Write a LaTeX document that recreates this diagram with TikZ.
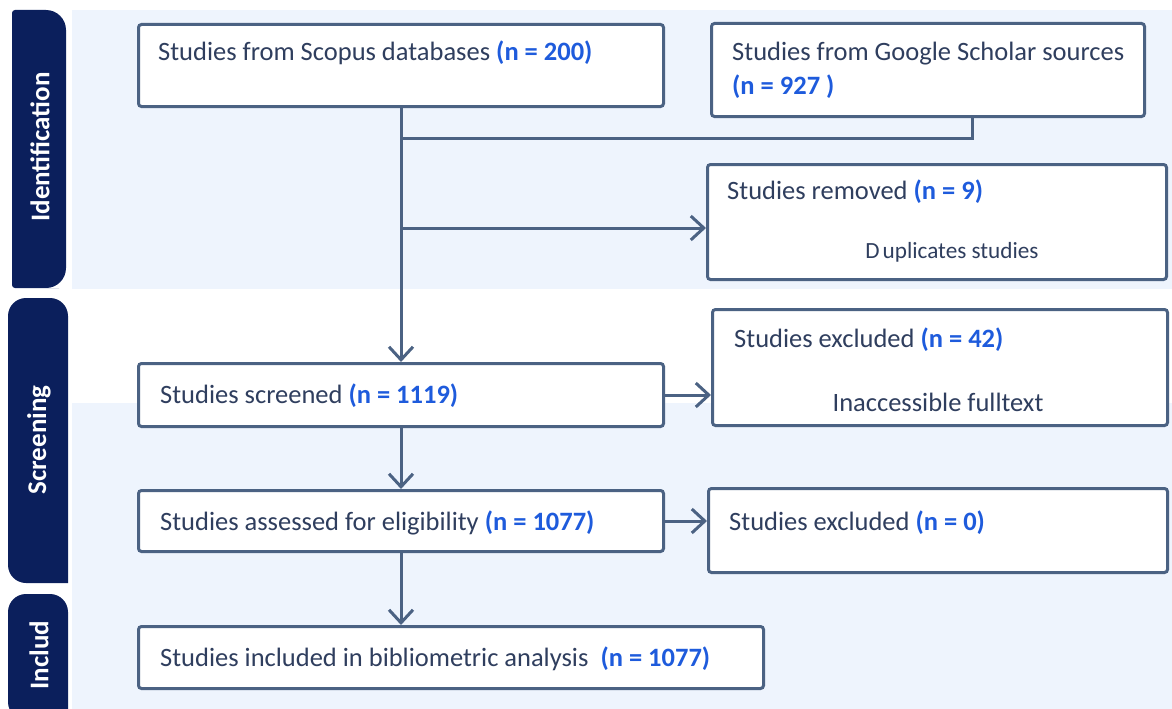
\documentclass[tikz,border=0pt]{standalone}
\usepackage{fontspec}
\setmainfont{Carlito}
\usetikzlibrary{arrows.meta,calc}
\definecolor{tabc}{HTML}{0B1F5C}
\definecolor{bgc}{HTML}{EEF4FD}
\definecolor{linec}{HTML}{4B6283}
\definecolor{txtc}{HTML}{2F3E5E}
\definecolor{numc}{HTML}{1E5BDC}
\newcommand{\nm}[1]{\textcolor{numc}{\bfseries #1}}
\tikzset{
  box/.style={draw=linec, line width=3pt, fill=white, rounded corners=3pt, anchor=north west, inner sep=0pt},
  txt/.style={text=txtc, font=\fontsize{26.5}{31}\selectfont, anchor=base west, inner sep=0pt},
  small/.style={text=txtc, font=\fontsize{23.2}{27}\selectfont, anchor=base, inner sep=0pt},
  tablabel/.style={text=white, font=\fontsize{27}{31}\selectfont\bfseries, rotate=90, inner sep=0pt},
  conn/.style={draw=linec, line width=3pt},
  arr/.style={conn, -{Straight Barb[length=13pt,width=24pt,line width=3pt]}},
}
\begin{document}
\begin{tikzpicture}[x=1pt,y=-1pt]
\useasboundingbox (0,0) rectangle (1172,709);
% backgrounds
\fill[bgc] (72,10) rectangle (1172,289);
\fill[bgc] (72,403) rectangle (1172,709);
% tabs
\fill[tabc, rounded corners=20pt] (39,10) -- (66,10) -- (66,288) -- (39,288) [rounded corners=3pt] -- (12,288) -- (12,10) -- cycle;
\fill[tabc, rounded corners=18pt] (68,583) -- (8,583) -- (8,298) -- (68,298) [sharp corners] -- cycle;
\fill[tabc, rounded corners=18pt] (68,720) -- (8,720) -- (8,594) -- (68,594) [sharp corners] -- cycle;
\node[tablabel] (lid) at (40,147) {Identification};
\node[tablabel] (lsc) at (39,440) {Screening};
\node[tablabel] (lin) at (39,655) {Includ};
% boxes
\node[box, minimum width=525pt, minimum height=82pt] (scopus) at (137,23) {};
\node[box, minimum width=433pt, minimum height=93pt] (google) at (710,22) {};
\node[box, minimum width=459pt, minimum height=115pt] (removed) at (706,163) {};
\node[box, minimum width=525pt, minimum height=63pt] (screened) at (137,362) {};
\node[box, minimum width=455pt, minimum height=116pt] (excla) at (711,308) {};
\node[box, minimum width=525pt, minimum height=61pt] (assessed) at (137,489) {};
\node[box, minimum width=459pt, minimum height=84pt] (exclb) at (707,487) {};
\node[box, minimum width=625pt, minimum height=62pt] (included) at (137,625) {};
% texts
\node[txt] (t1) at (158,61) {Studies from Scopus databases \nm{(n = 200)}};
\node[txt] (t2) at (732,61) {Studies from Google Scholar sources};
\node[txt] (t2b) at (732,94) {\nm{(n = 927 )}};
\node[txt] (t3) at (727,199) {Studies removed \nm{(n = 9)}};
\node[small] (t3b) at (952,258) {D\kern3pt uplicates studies};
\node[txt] (t4) at (160,403) {Studies screened \nm{(n = 1119)}};
\node[txt] (t5) at (734,347) {Studies excluded \nm{(n = 42)}};
\node[txt, anchor=base] (t5b) at (938,411) {Inaccessible fulltext};
\node[txt] (t6) at (160,530) {Studies assessed for eligibility \nm{(n = 1077)}};
\node[txt] (t7) at (729,530) {Studies excluded \nm{(n = 0)}};
\node[txt] (t8) at (160,666) {Studies included in bibliometric analysis \ \nm{(n = 1077)}};
% connectors
\coordinate (gj) at (972,138);
\draw[conn] (google.south -| gj) -- (gj) -- (gj -| scopus.south);
\draw[arr] (scopus.south) -- (screened.north);
\draw[arr] (scopus.south |- 0,228) -- (removed.west |- 0,228);
\draw[arr] (screened.east) -- (excla.west |- screened.east);
\draw[arr] (screened.south) -- (assessed.north);
\draw[arr] (assessed.east) -- (exclb.west |- assessed.east);
\draw[arr] (assessed.south) -- (included.north -| assessed.south);
\end{tikzpicture}
\end{document}
